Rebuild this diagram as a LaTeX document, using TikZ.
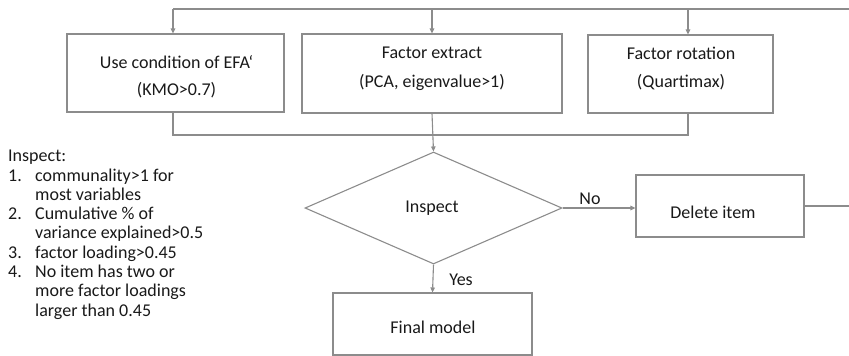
\documentclass[tikz,border=0pt]{standalone}
\usepackage{fontspec}
\setmainfont{Carlito}
\usetikzlibrary{arrows.meta,shapes.geometric}
\definecolor{linegray}{RGB}{140,140,140}
\begin{document}
\begin{tikzpicture}[x=1pt,y=-1pt,
  font=\fontsize{18pt}{19.3pt}\selectfont,
  box/.style={draw=linegray,line width=1.1pt,inner sep=0pt},
  conn/.style={draw=linegray,line width=1.1pt},
  arr/.style={conn,-{Triangle[length=5pt,width=4.5pt]}},
  lbl/.style={inner sep=0pt,text=black!90}]
\useasboundingbox (0,0) rectangle (849,356);
% boxes
\node[box,minimum width=217pt,minimum height=78pt] (b1) at (175.5,73) {};
\node[box,minimum width=260pt,minimum height=79pt] (b2) at (432,73.5) {};
\node[box,minimum width=185pt,minimum height=78pt] (b3) at (680.5,74) {};
\node[lbl] (t1a) at (176.5,62) {Use condition of EFA\symbol{96}};
\node[lbl] (t1b) at (176.5,90) {(KMO>0.7)};
\node[lbl] (t2a) at (432,53) {Factor extract};
\node[lbl] (t2b) at (432,82) {(PCA, eigenvalue>1)};
\node[lbl] (t3a) at (681,53) {Factor rotation};
\node[lbl] (t3b) at (681,82) {(Quartimax)};
% diamond
\node[box,diamond,shape aspect=2.295,minimum width=257pt,minimum height=112pt] (dia) at (433.5,208) {};
\node[lbl] (tdia) at (432,208) {Inspect};
% delete item
\node[box,minimum width=168pt,minimum height=62pt] (del) at (720,206) {};
\node[lbl] (tdel) at (713,212) {Delete item};
% final model
\node[box,minimum width=199pt,minimum height=62pt] (fin) at (432.5,324) {};
\node[lbl] (tfin) at (433,327) {Final model};
% top feedback line
\coordinate (topA) at (173,9);
\coordinate (topB) at (432,9);
\coordinate (topC) at (688,9);
\coordinate (farR) at (880,9);
\draw[conn] (del.east) -- (880,206) -- (farR) -- (topA);
\draw[arr] (topA) -- (b1.north -| topA);
\draw[arr] (topB) -- (b2.north);
\draw[arr] (topC) -- (b3.north -| topC);
% merge line
\coordinate (mA) at (173,135);
\coordinate (mC) at (688,135);
\draw[conn] (b1.south -| mA) -- (mA) -- (mC) -- (b3.south -| mC);
\draw[arr] (b2.south) -- (dia.north);
% decisions
\draw[arr] (dia.east) -- (del.west |- dia.east);
\node[lbl] (no) at (590,199) {No};
\draw[arr] (dia.south) -- (fin.north);
\node[lbl] (yes) at (461,280) {Yes};
% left text
\node[lbl,anchor=north west,align=left] (insp) at (8,150) {Inspect:\\
\makebox[27pt][l]{1.}communality>1 for\\
\hspace*{27pt}most variables\\
\makebox[27pt][l]{2.}Cumulative \% of\\
\hspace*{27pt}variance explained>0.5\\
\makebox[27pt][l]{3.}factor loading>0.45\\
\makebox[27pt][l]{4.}No item has two or\\
\hspace*{27pt}more factor loadings\\
\hspace*{27pt}larger than 0.45};
\end{tikzpicture}
\end{document}
